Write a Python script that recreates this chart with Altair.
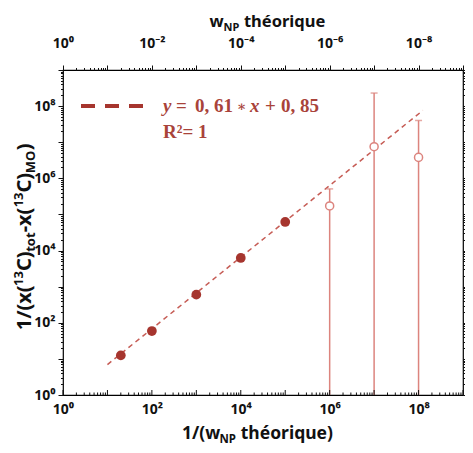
import altair as alt
import pandas as pd

# ---- data ----
x_filled = [20, 100, 1000, 10000, 100000]
y_filled = [12.5, 59, 600, 6240, 62000]
x_open = [1e6, 1e7, 1e8]
y_open = [1.72e5, 7.5e6, 3.8e6]
err_low = [1, 1, 1]
err_high = [5.1e5, 2.3e8, 4.0e7]
fit_x = [10, 1.25e8]
fit_y = [6.95, 7.6e7]

decades = [10 ** e for e in range(10)]
minors = [m * 10 ** e for e in range(9) for m in range(2, 10)]
all_ticks = sorted(decades + minors)

W, H = 400, 325
C_FILL = "#A6352E"
C_OPEN = "#DC847E"
C_FIT = "#C65C55"
C_TXT = "#A9433A"
C_AX = "#111111"
SANS = "Noto Sans"
SERIF = "Liberation Serif"

filled_df = pd.DataFrame({"x": x_filled, "y": y_filled})
open_df = pd.DataFrame({"x": x_open, "y": y_open, "lo": err_low, "hi": err_high})
fit_df = pd.DataFrame({"x": fit_x, "y": fit_y})
maj_df = pd.DataFrame({"v": decades})
min_df = pd.DataFrame({"v": minors})
one = pd.DataFrame({"a": [0]})

xs = alt.Scale(type="log", domain=[1, 1e9], nice=False)
ys = alt.Scale(type="log", domain=[1, 1e9], nice=False)

L = "(log(datum.value)/LN10)"
E = f"round({L})"
MAJ = f"(abs({L} - {E}) < 0.001)"
SUP = "['⁰','¹','²','³','⁴','⁵','⁶','⁷','⁸','⁹']"
lab_pos = f"({MAJ} && {E} % 2 == 0) ? '10' + {SUP}[{E}] : ''"
lab_top = f"({MAJ} && {E} % 2 == 0) ? ('10' + ({E} == 0 ? '' : '⁻') + {SUP}[{E}]) : ''"
tsize = {"condition": {"test": MAJ, "value": 5}, "value": 2.5}

ax_bottom = alt.Axis(orient="bottom", values=decades, labelExpr=lab_pos, ticks=False,
                     labelPadding=7, title=None, labelFlush=False, labelOverlap=False)
ax_left = alt.Axis(orient="left", values=all_ticks, labelExpr=lab_pos, tickSize=tsize,
                   labelPadding=3, title=None, labelFlush=False, labelOverlap=False)
ax_top = alt.Axis(orient="top", values=all_ticks, labelExpr=lab_top, tickSize=tsize,
                  labelPadding=15, title=None, labelFlush=False, labelOverlap=False)
ax_right = alt.Axis(orient="right", values=all_ticks, labels=False, tickSize=tsize, title=None)

fit = alt.Chart(fit_df).mark_line(color=C_FIT, strokeDash=[5, 4], strokeWidth=1.5).encode(
    x=alt.X("x:Q", scale=xs, axis=ax_top),
    y=alt.Y("y:Q", scale=ys, axis=ax_right),
)
errs = alt.Chart(open_df).mark_rule(color=C_OPEN, strokeWidth=1.5).encode(
    x=alt.X("x:Q", scale=xs, axis=None),
    y=alt.Y("lo:Q", scale=ys, axis=None),
    y2="hi:Q",
)
caps = alt.Chart(open_df).mark_tick(color=C_OPEN, orient="horizontal", size=7, thickness=1.5).encode(
    x=alt.X("x:Q", scale=xs, axis=None),
    y=alt.Y("hi:Q", scale=ys, axis=None),
)
opens = alt.Chart(open_df).mark_point(shape="circle", filled=True, fill="white", stroke=C_OPEN,
                                      strokeWidth=1.5, size=65, opacity=1).encode(
    x=alt.X("x:Q", scale=xs, axis=None),
    y=alt.Y("y:Q", scale=ys, axis=None),
)
filled = alt.Chart(filled_df).mark_circle(color=C_FILL, size=95, opacity=1).encode(
    x=alt.X("x:Q", scale=xs, axis=ax_bottom),
    y=alt.Y("y:Q", scale=ys, axis=ax_left),
)
bt_major = alt.Chart(maj_df).mark_rule(color=C_AX, strokeWidth=1).encode(
    x=alt.X("v:Q", scale=xs, axis=None), y=alt.value(H), y2=alt.value(H - 5))
bt_minor = alt.Chart(min_df).mark_rule(color=C_AX, strokeWidth=1).encode(
    x=alt.X("v:Q", scale=xs, axis=None), y=alt.value(H), y2=alt.value(H - 2.5))

# ---- legend ----
leg_dash = alt.Chart(one).mark_rule(color=C_FILL, strokeWidth=4, strokeDash=[14, 10]).encode(
    x=alt.value(18), x2=alt.value(81), y=alt.value(36))


def txt(t, x, y, size, font, color, italic=False, angle=0):
    return alt.Chart(one).mark_text(text=t, font=font, fontSize=size, fontWeight="bold",
                                    fontStyle="italic" if italic else "normal", align="left",
                                    baseline="alphabetic", color=color, angle=angle).encode(
        x=alt.value(x), y=alt.value(y))


leg_txt = [
    txt("y", 100, 42, 19, SERIF, C_TXT, italic=True),
    txt("=", 113, 42, 19, SERIF, C_TXT),
    txt("0, 61", 132, 42, 19, SERIF, C_TXT),
    txt("∗", 174, 41, 14, "DejaVu Serif", C_TXT),
    txt("x", 187, 42, 19, SERIF, C_TXT, italic=True),
    txt("+", 202, 42, 19, SERIF, C_TXT),
    txt("0, 85", 218, 42, 19, SERIF, C_TXT),
    txt("R²= 1", 100, 68, 19, SERIF, C_TXT),
]

# ---- axis titles made of pieces (for sub/superscripts) ----
CW = {' ': 0.26, '(': 0.33, ')': 0.33, '/': 0.39, '-': 0.32, '1': 0.57, '3': 0.57, 'C': 0.63,
      'M': 0.98, 'N': 0.81, 'O': 0.79, 'P': 0.65, 'h': 0.66, 'e': 0.60, 'é': 0.60, 'i': 0.31,
      'o': 0.62, 'q': 0.66, 'r': 0.45, 't': 0.44, 'u': 0.66, 'w': 0.85, 'x': 0.60}


def wid(t, s):
    return sum(CW.get(c, 0.6) for c in t) * s


def hpieces(pieces, cx, base):
    x = cx - sum(wid(t, s) for t, s, d in pieces) / 2
    out = []
    for t, s, d in pieces:
        lead = len(t) - len(t.lstrip(" "))
        out.append(txt(t.lstrip(" "), x + wid(" " * lead, s), base + d, s, SANS, C_AX))
        x += wid(t, s)
    return out


def vpieces(pieces, cy, base):
    y = cy + sum(wid(t, s) for t, s, d in pieces) / 2
    out = []
    for t, s, d in pieces:
        out.append(txt(t, base + d, y, s, SANS, C_AX, angle=270))
        y -= wid(t, s)
    return out


top_title = hpieces([("w", 16.5, 0), ("NP", 11, 3.5), (" théorique", 16.5, 0)], 205, -43)
bot_title = hpieces([("1/(w", 17.5, 0), ("NP", 11.5, 3.5), (" théorique)", 17.5, 0)], 195, 369)
y_title = vpieces([("1/(x(", 20, 0), ("13", 13, -7.5), ("C)", 20, 0), ("tot", 13, 4.5),
                   ("-x(", 20, 0), ("13", 13, -7.5), ("C)", 20, 0), ("MO", 13, 4.5),
                   (")", 20, 0)], 167, -32.5)

chart = alt.layer(
    fit, errs, caps, opens, filled, bt_major, bt_minor, leg_dash,
    *leg_txt, *top_title, *bot_title, *y_title,
).properties(
    width=W, height=H,
    autosize=alt.AutoSizeParams(type="none"),
    padding={"left": 55, "top": 62, "right": 2, "bottom": 50},
).resolve_axis(x="independent", y="independent").configure_view(
    stroke="black", strokeWidth=1.2
).configure_axis(
    grid=False, domain=False, labelFont=SANS, labelFontSize=14, labelFontWeight="bold",
    labelColor=C_AX, tickColor=C_AX, tickWidth=1,
)

chart.save("out.html", embed_options={"renderer": "svg", "actions": False})
